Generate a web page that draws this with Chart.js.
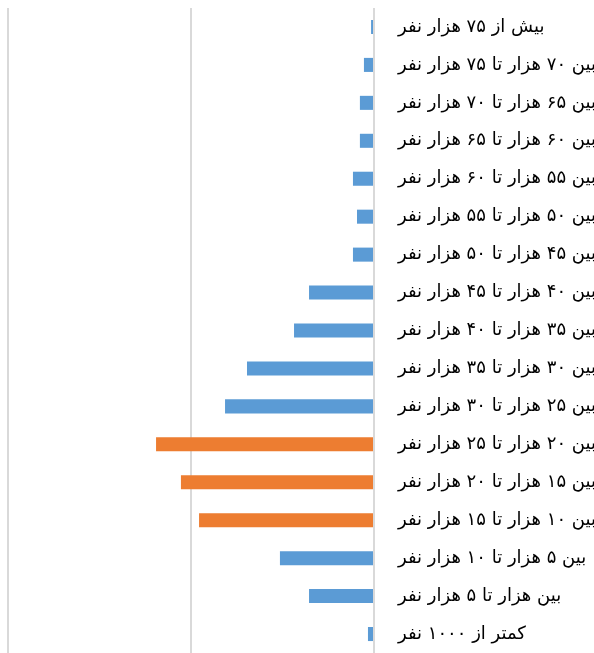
<!DOCTYPE html>
<html><head><meta charset="utf-8">
<script src="https://cdn.jsdelivr.net/npm/chart.js@4"></script>
<style>html,body{margin:0;padding:0;background:#fff;overflow:hidden}#w{width:594px;height:653px}</style>
</head><body><div id="w"><canvas id="c"></canvas></div>
<script>
const categories = [
 "بیش از ۷۵ هزار نفر",
 "بین ۷۰ هزار تا ۷۵ هزار نفر",
 "بین ۶۵ هزار تا ۷۰ هزار نفر",
 "بین ۶۰ هزار تا ۶۵ هزار نفر",
 "بین ۵۵ هزار تا ۶۰ هزار نفر",
 "بین ۵۰ هزار تا ۵۵ هزار نفر",
 "بین ۴۵ هزار تا ۵۰ هزار نفر",
 "بین ۴۰ هزار تا ۴۵ هزار نفر",
 "بین ۳۵ هزار تا ۴۰ هزار نفر",
 "بین ۳۰ هزار تا ۳۵ هزار نفر",
 "بین ۲۵ هزار تا ۳۰ هزار نفر",
 "بین ۲۰ هزار تا ۲۵ هزار نفر",
 "بین ۱۵ هزار تا ۲۰ هزار نفر",
 "بین ۱۰ هزار تا ۱۵ هزار نفر",
 "بین ۵ هزار تا ۱۰ هزار نفر",
 "بین هزار تا ۵ هزار نفر",
 "کمتر از ۱۰۰۰ نفر"
];
const values = [1.6, 5.5, 7.7, 7.7, 11.5, 9.3, 11.5, 35.5, 43.7, 69.4, 81.4, 119.1, 105.5, 95.6, 51.4, 35.5, 3.3];
const highlighted = [false,false,false,false,false,false,false,false,false,false,false,true,true,true,false,false,false];
const blue = "#5B9BD5", orange = "#ED7D31";
const colors = highlighted.map(h => h ? orange : blue);

new Chart(document.getElementById('c'), {
  type: 'bar',
  data: { labels: categories, datasets: [{ data: values, backgroundColor: colors, barPercentage: 0.74, categoryPercentage: 0.5 }] },
  options: {
    indexAxis: 'y',
    responsive: true, maintainAspectRatio: false, animation: false,
    layout: { padding: { top: 8, left: 8, right: 0, bottom: 0 } },
    plugins: { legend: { display: false }, tooltip: { enabled: false } },
    scales: {
      x: {
        reverse: true, min: 0, max: 200,
        ticks: { display: false, stepSize: 100 },
        grid: { color: '#d9d9d9', lineWidth: 2, drawTicks: false },
        border: { display: false }
      },
      y: {
        position: 'right',
        grid: { display: false, drawTicks: false },
        border: { display: false },
        ticks: { padding: 24, color: '#000', font: { family: 'DejaVu Sans', size: 18 } },
        afterFit: s => { s.width = 220; s.paddingTop = 0; s.paddingBottom = 0; }
      }
    }
  }
});
</script></body></html>
